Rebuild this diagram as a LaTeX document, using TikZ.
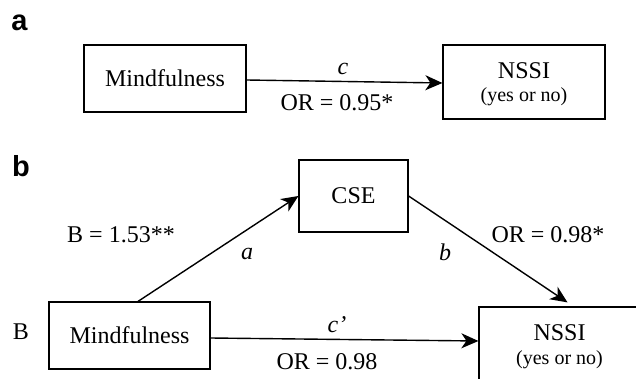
\documentclass[tikz,border=0pt]{standalone}
\usepackage{fontspec}
\setmainfont{Liberation Serif}
\newfontfamily\labfont{Liberation Sans}
\usetikzlibrary{arrows.meta}
\tikzset{
  box/.style={draw,line width=1.2pt,inner sep=0pt},
  txt/.style={font=\fontsize{24}{28}\selectfont, inner sep=0pt},
  itxt/.style={font=\fontsize{24}{28}\selectfont\itshape, inner sep=0pt},
  smalltxt/.style={font=\fontsize{20}{24}\selectfont, inner sep=0pt},
  panel/.style={font=\labfont\bfseries\fontsize{29}{33}\selectfont, inner sep=0pt},
  arr/.style={line width=1.4pt, -{Stealth[length=17pt,width=15pt,inset=5pt]}}
}
\begin{document}
\begin{tikzpicture}[x=1pt,y=-1pt]
\useasboundingbox (0,0) rectangle (636,379);
\clip (0,0) rectangle (636,379);
% panel a
\node[panel] (pa) at (19.5,23) {a};
\node[box,txt,minimum width=162pt,minimum height=67pt] (m1) at (165,78.5) {Mindfulness};
\node[box,minimum width=162pt,minimum height=74pt] (n1) at (524,82) {};
\node[txt] (n1a) at ([yshift=11pt]n1.center) {NSSI};
\node[smalltxt] (n1b) at ([yshift=-15pt]n1.center) {(yes or no)};
\draw[arr] ([yshift=-1.5pt]m1.east) -- ([yshift=-1pt]n1.west);
\node[itxt] (c1) at (343,69) {c};
\node[txt] (or1) at (337,103) {OR = 0.95*};
% panel b
\node[panel] (pb) at (21,166) {b};
\node[box,txt,minimum width=109pt,minimum height=72pt] (cse) at (353.5,196) {CSE};
\node[box,txt,minimum width=161pt,minimum height=67pt] (m2) at (129.5,335.5) {Mindfulness};
\node[box,minimum width=161pt,minimum height=75pt] (n2) at (559.5,344.5) {};
\node[txt] (n2a) at ([yshift=11.5pt]n2.center) {NSSI};
\node[smalltxt] (n2b) at ([yshift=-15.5pt]n2.center) {(yes or no)};
\node[txt] (bl) at (21,332) {B};
\draw[arr] ([xshift=8.5pt]m2.north) -- (cse.west);
\draw[arr] (cse.east) -- ([xshift=8pt,yshift=4pt]n2.north);
\draw[arr] ([yshift=-2.5pt]m2.east) -- ([yshift=3.5pt]n2.west);
\node[txt] (bval) at (121,235) {B = 1.53**};
\node[itxt] (la) at (247,254) {a};
\node[itxt] (lbb) at (445,252) {b};
\node[txt] (or2) at (548,235) {OR = 0.98*};
\node[itxt] (lc) at (337,325) {c’};
\node[txt] (or3) at (327,362) {OR = 0.98};
\end{tikzpicture}
\end{document}
